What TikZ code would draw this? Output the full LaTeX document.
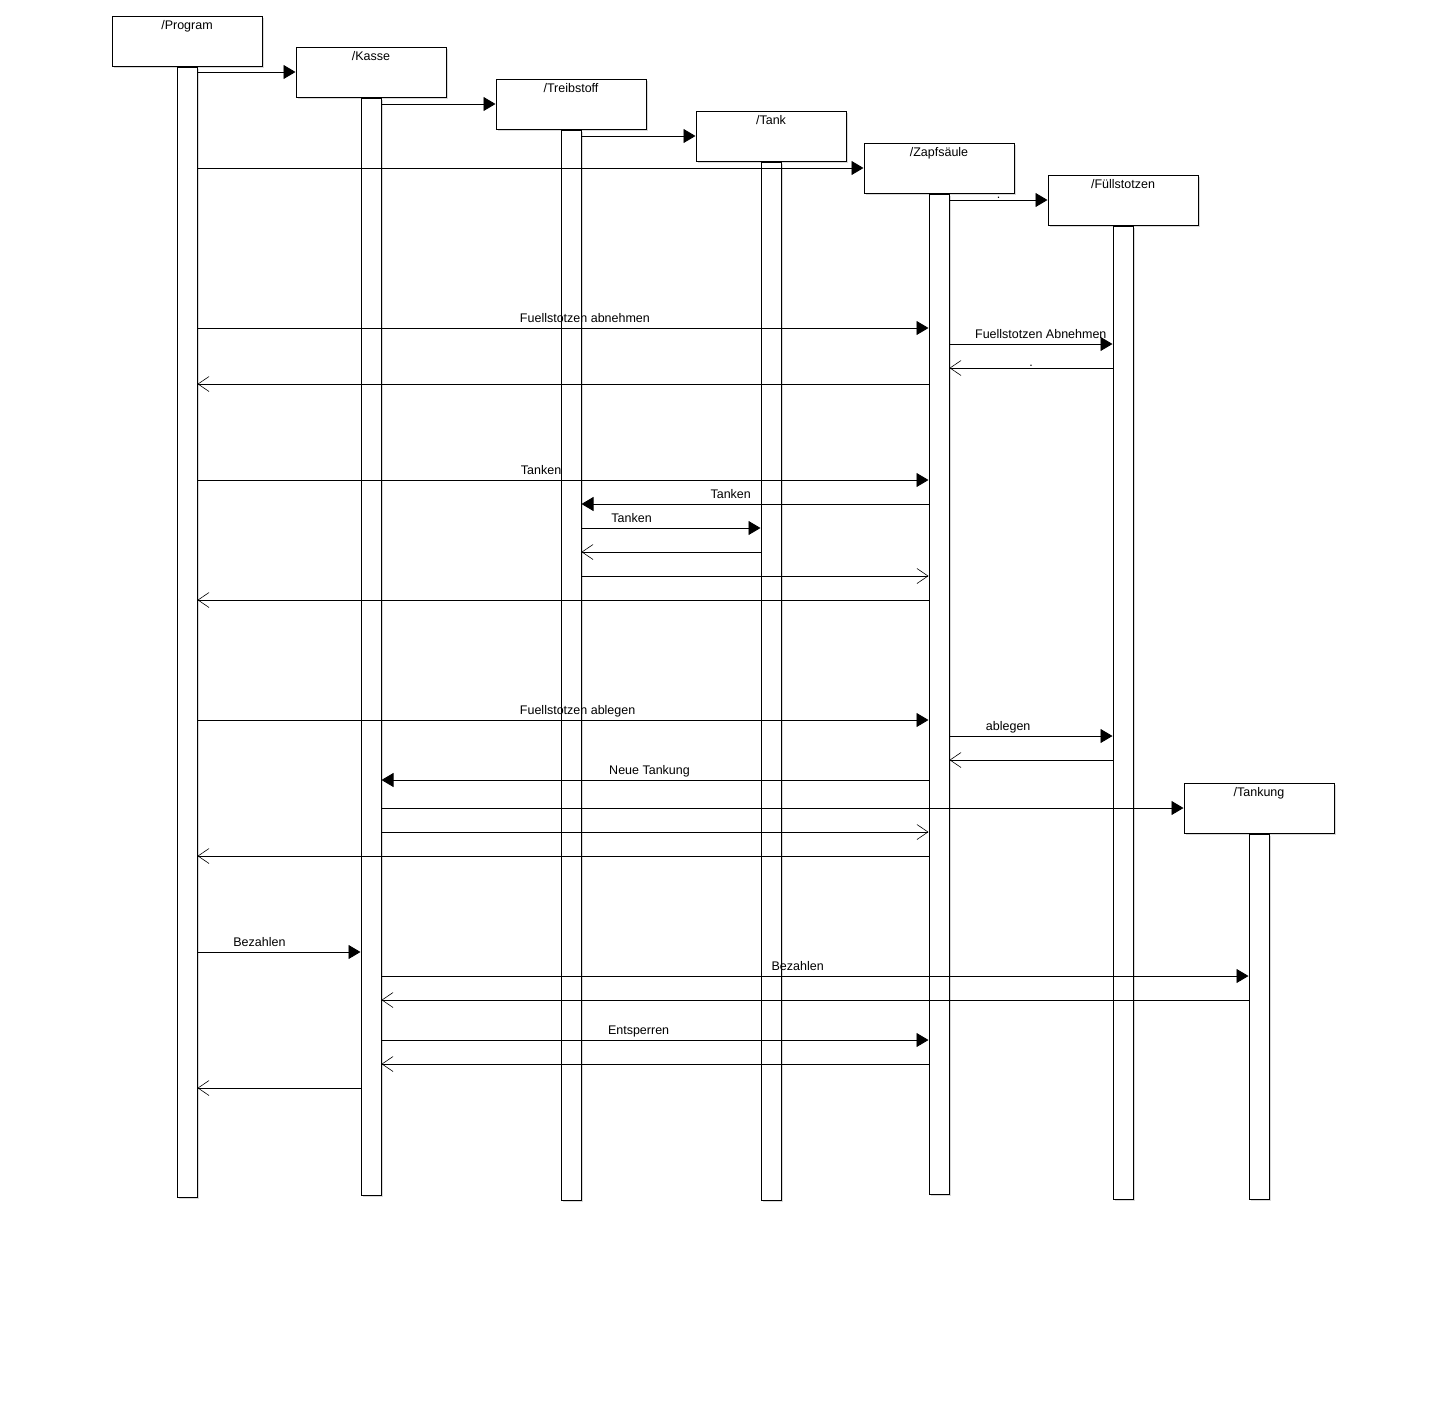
\documentclass[tikz,border=0pt]{standalone}
\usepackage{fontspec}
\setmainfont{Liberation Sans}
\usetikzlibrary{arrows.meta,shadows}
\tikzset{
    objshadow/.style={drop shadow={shadow xshift=1.5pt,shadow yshift=-1.5pt,fill=black,opacity=0.15}},
    objbox/.style={draw,line width=1pt,fill=white,minimum width=150,minimum height=50,inner sep=0pt,objshadow},
    boxtitle/.style={anchor=north,inner sep=5pt,text height=9pt,text depth=0pt},
    lifebar/.style={draw,line width=1pt,fill=white,minimum width=20,inner sep=0pt,anchor=north,objshadow},
    call/.style={line width=0.9pt,-{Triangle[length=12pt,width=14pt]}},
    reply/.style={line width=0.9pt,-{Straight Barb[length=11pt,width=15pt,line width=0.6pt]}},
    lbl/.style={anchor=south,yshift=5pt,inner sep=0pt,text depth=0pt},
    dotlbl/.style={anchor=south,yshift=1pt,inner sep=0pt,text depth=0pt}
}
\begin{document}
\begin{tikzpicture}[x=1pt,y=-1pt,font=\fontsize{12.5}{15}\selectfont]
            \useasboundingbox (0,0) rectangle (1446,1408);
            \fill[white] (0,0) rectangle (1446,1408);
            % objects with their lifelines
            \foreach \n/\cx/\cy/\t/\b in {prog/187/41/Program/1196,kasse/371/72/Kasse/1194,treib/571/104/Treibstoff/1199,tank/771/136/Tank/1199,zapf/939/168/Zapfsäule/1193,fuell/1123/200/Füllstotzen/1198,tankung/1259/808/Tankung/1198}{
                \node[objbox,label={[boxtitle]north:/\t}] (\n) at (\cx,\cy) {};
                \node[lifebar,minimum height={\b-\cy-25}] (\n bar) at (\n.south) {};
            }
            % creation
            \draw[call] (progbar.east |- 0,72)--(kasse.west);
            \draw[call] (kassebar.east |- 0,104)--(treib.west);
            \draw[call] (treibbar.east |- 0,136)--(tank.west);
            \draw[call] (progbar.east |- 0,168)--(zapf.west);
            \draw[call] (zapfbar.east |- 0,200)--node[dotlbl]{.}(fuell.west);
            % abnehmen
            \draw[call] (progbar.east |- 0,328)--node[lbl,pos=0.53]{Fuellstotzen abnehmen}(zapfbar.west |- 0,328);
            \draw[call] (zapfbar.east |- 0,344)--node[lbl,pos=0.56]{Fuellstotzen Abnehmen}(fuellbar.west |- 0,344);
            \draw[reply] (fuellbar.west |- 0,368)--node[dotlbl]{.}(zapfbar.east |- 0,368);
            \draw[reply] (zapfbar.west |- 0,384)--(progbar.east |- 0,384);
            % tanken
            \draw[call] (progbar.east |- 0,480)--node[lbl,pos=0.47]{Tanken}(zapfbar.west |- 0,480);
            \draw[call] (zapfbar.west |- 0,504)--node[lbl,pos=0.57]{Tanken}(treibbar.east |- 0,504);
            \draw[call] (treibbar.east |- 0,528)--node[lbl,pos=0.28]{Tanken}(tankbar.west |- 0,528);
            \draw[reply] (tankbar.west |- 0,552)--(treibbar.east |- 0,552);
            \draw[reply] (treibbar.east |- 0,576)--(zapfbar.west |- 0,576);
            \draw[reply] (zapfbar.west |- 0,600)--(progbar.east |- 0,600);
            % ablegen
            \draw[call] (progbar.east |- 0,720)--node[lbl,pos=0.52]{Fuellstotzen ablegen}(zapfbar.west |- 0,720);
            \draw[call] (zapfbar.east |- 0,736)--node[lbl,pos=0.36]{ablegen}(fuellbar.west |- 0,736);
            \draw[reply] (fuellbar.west |- 0,760)--(zapfbar.east |- 0,760);
            \draw[call] (zapfbar.west |- 0,780)--node[lbl,pos=0.51]{Neue Tankung}(kassebar.east |- 0,780);
            \draw[call] (kassebar.east |- 0,808)--(tankung.west);
            \draw[reply] (kassebar.east |- 0,832)--(zapfbar.west |- 0,832);
            \draw[reply] (zapfbar.west |- 0,856)--(progbar.east |- 0,856);
            % bezahlen
            \draw[call] (progbar.east |- 0,952)--node[lbl,pos=0.38]{Bezahlen}(kassebar.west |- 0,952);
            \draw[call] (kassebar.east |- 0,976)--node[lbl,pos=0.48]{Bezahlen}(tankungbar.west |- 0,976);
            \draw[reply] (tankungbar.west |- 0,1000)--(kassebar.east |- 0,1000);
            \draw[call] (kassebar.east |- 0,1040)--node[lbl,pos=0.47]{Entsperren}(zapfbar.west |- 0,1040);
            \draw[reply] (zapfbar.west |- 0,1064)--(kassebar.east |- 0,1064);
            \draw[reply] (kassebar.west |- 0,1088)--(progbar.east |- 0,1088);
        \end{tikzpicture}
\end{document}
